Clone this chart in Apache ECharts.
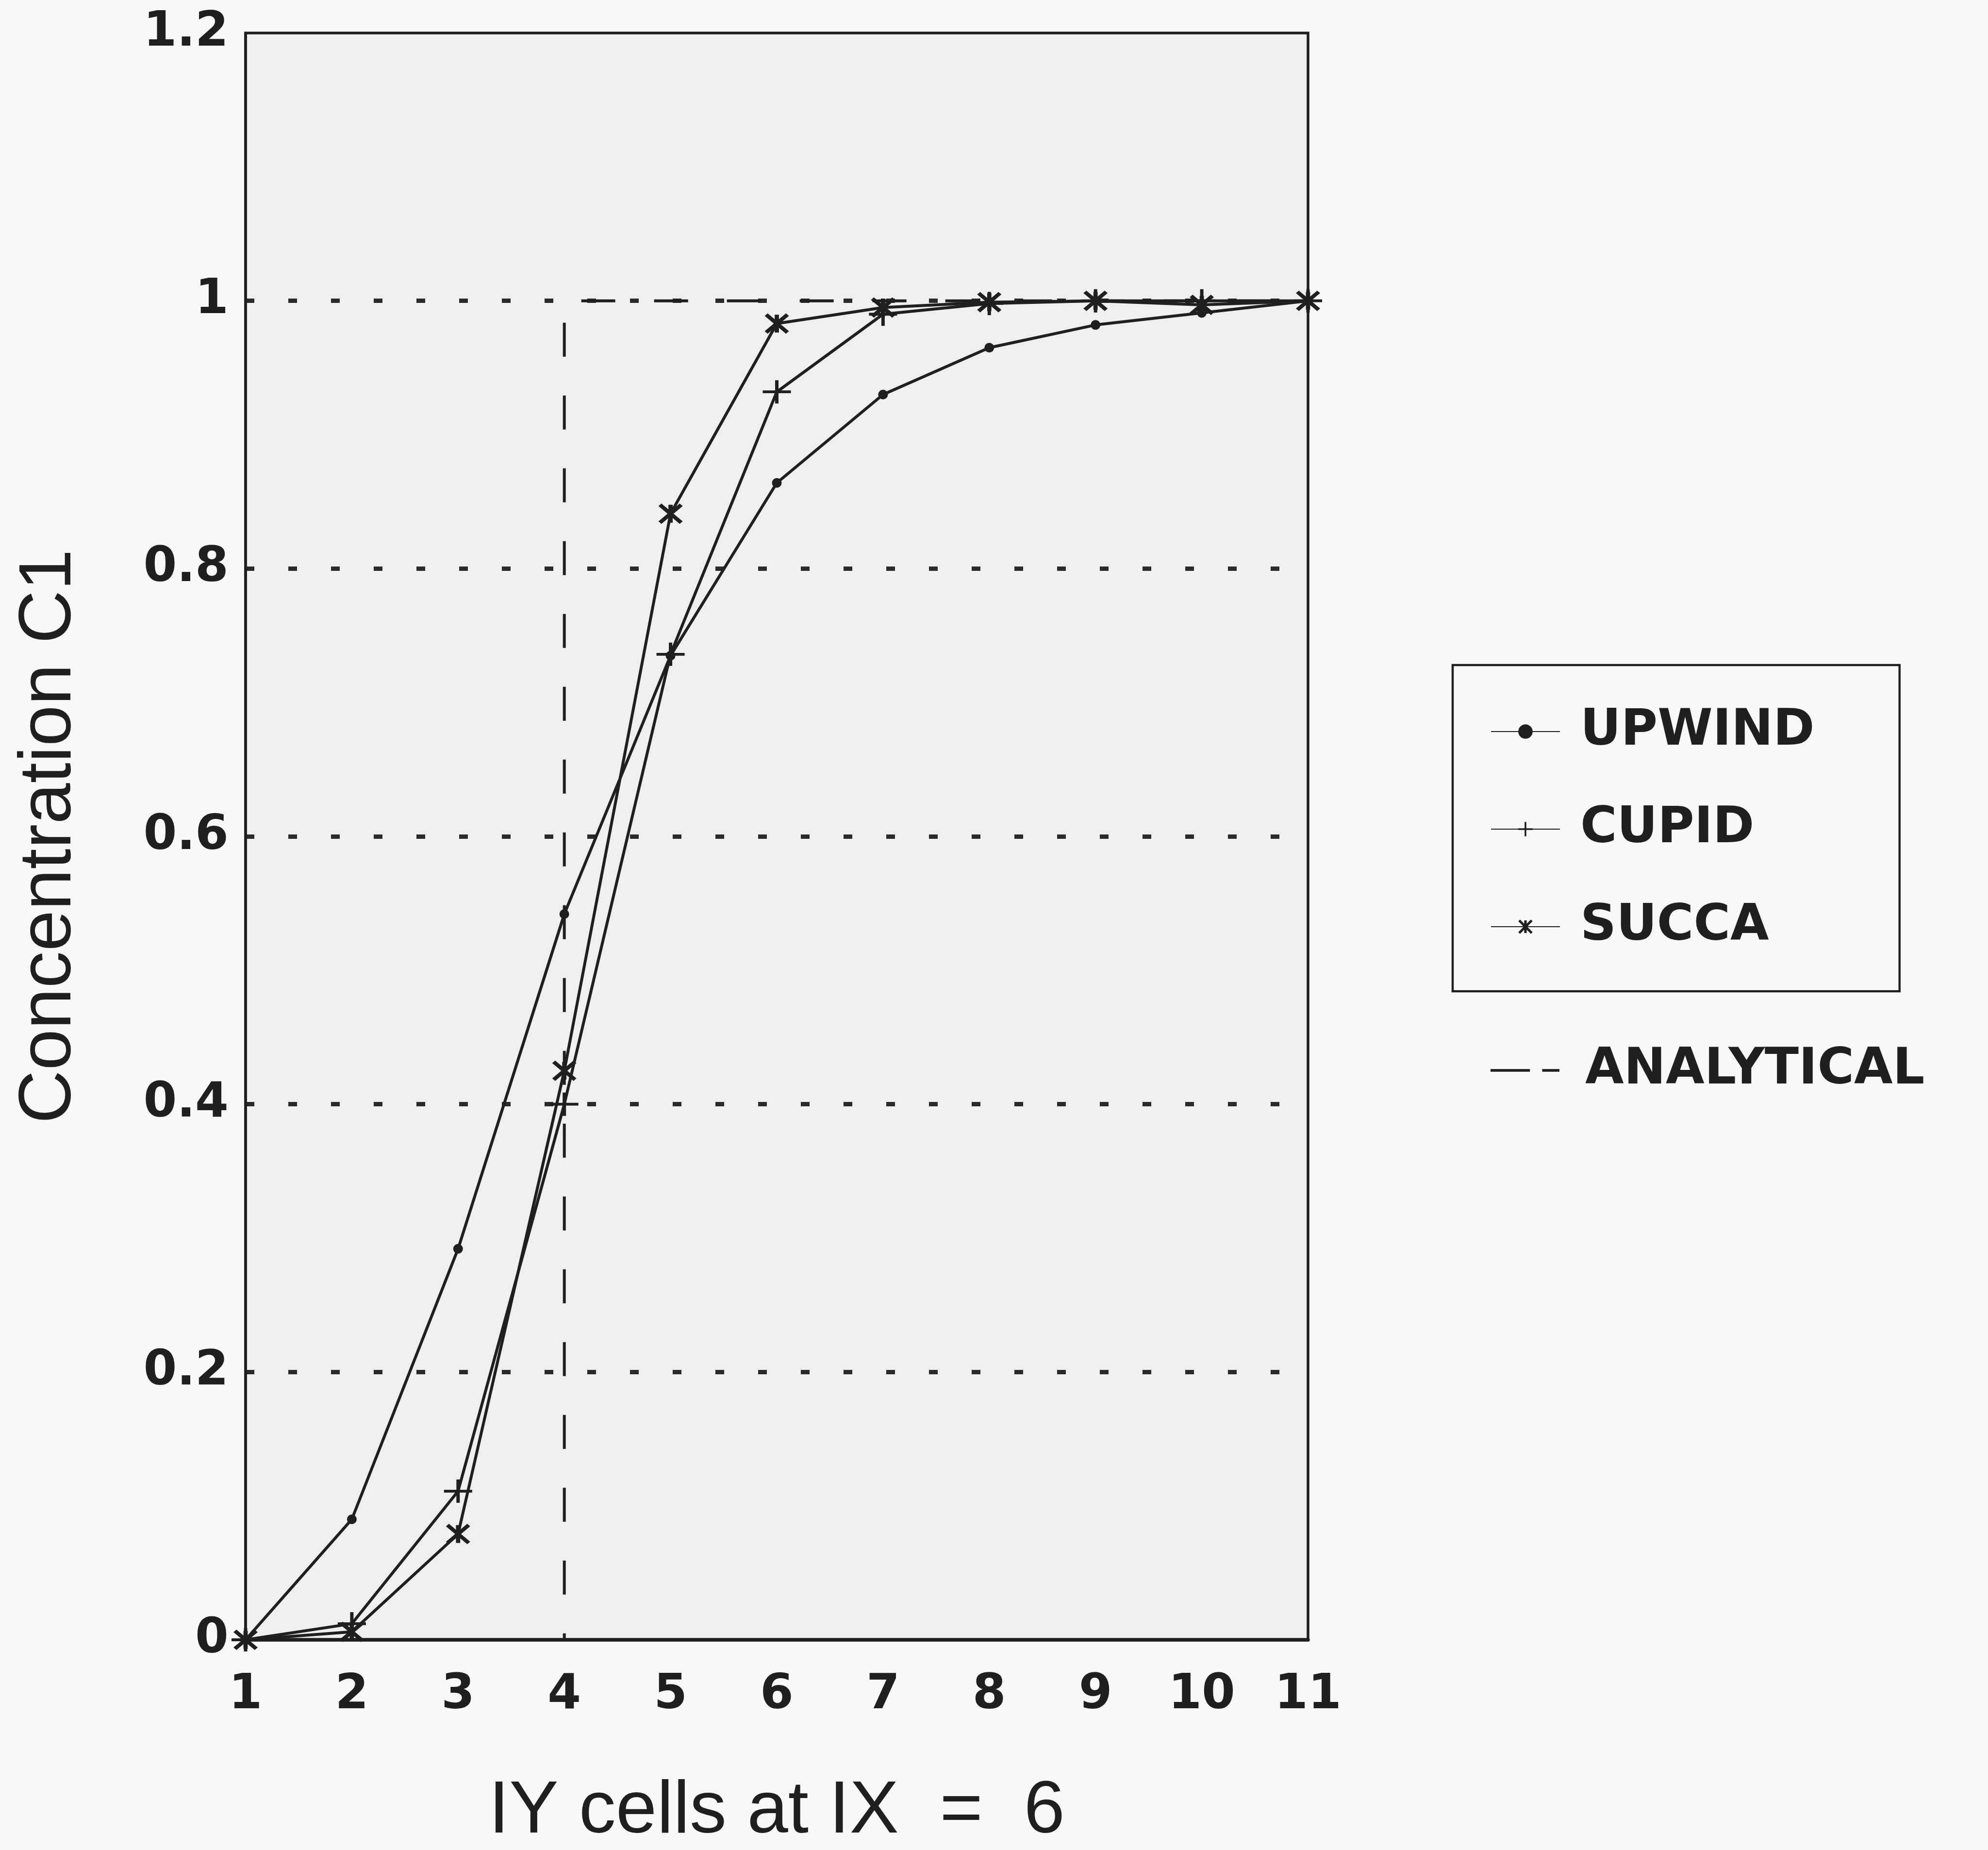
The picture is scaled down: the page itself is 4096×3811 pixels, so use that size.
<!DOCTYPE html>
<html>
<head>
<meta charset="utf-8">
<title>Concentration C1 along IY at IX = 6</title>
<script src="https://cdn.jsdelivr.net/npm/echarts@6/dist/echarts.min.js"></script>
<style>
  html, body { margin: 0; padding: 0; background: #f8f8f8; }
  #main { width: 4096px; height: 3811px; }
</style>
</head>
<body>
<div id="main"></div>
<script>
// cells along the column IX = 6
const iyCells = [1, 2, 3, 4, 5, 6, 7, 8, 9, 10, 11];
// concentration C1
const upwind = [0, 0.09, 0.292, 0.542, 0.735, 0.864, 0.93, 0.965, 0.982, 0.991, 1.0];
const cupid  = [0, 0.012, 0.111, 0.40, 0.736, 0.932, 0.99, 0.998, 1.0, 1.0, 1.0];
const succa  = [0, 0.006, 0.079, 0.425, 0.841, 0.983, 0.995, 0.999, 1.0, 0.997, 1.0];
// analytical step profile, corner points
const analyticalX = [1, 4, 4, 11];
const analyticalY = [0, 0, 1, 1];

const ink = '#1f1f1f';
const dotInk = '#2a2a2a';
const boldFont = 'DejaVu Sans';
const titleFont = 'Liberation Sans';

// a thick bar from (x1,y1) to (x2,y2) as a closed polygon, used for the marker paths
function bar(x1, y1, x2, y2, t) {
  const len = Math.hypot(x2 - x1, y2 - y1);
  const nx = -(y2 - y1) / len * t, ny = (x2 - x1) / len * t;
  const f = v => v.toFixed(3);
  return 'M' + f(x1 + nx) + ',' + f(y1 + ny) +
         'L' + f(x2 + nx) + ',' + f(y2 + ny) +
         'L' + f(x2 - nx) + ',' + f(y2 - ny) +
         'L' + f(x1 - nx) + ',' + f(y1 - ny) + 'Z';
}
const plusPath = 'path://' + bar(-1, 0, 1, 0, 0.12) + bar(0, -1, 0, 1, 0.12);
const starPath = 'path://' + bar(0, -1, 0, 1, 0.2) + bar(-1, -1, 1, 1, 0.2) + bar(-1, 1, 1, -1, 0.2);
const dashIcon = 'path://M0,0H87V6H0Z M114,0H152V6H114Z';

const pairs = ys => iyCells.map((x, i) => [x, ys[i]]);

const chart = echarts.init(document.getElementById('main'));

const lineCommon = {
  type: 'line',
  silent: true,
  animation: false,
  emphasis: { disabled: true },
  lineStyle: { color: ink, width: 6 },
  itemStyle: { color: ink }
};

chart.setOption({
  backgroundColor: '#f8f8f8',
  animation: false,
  grid: {
    left: 506, right: 1401, top: 68, bottom: 433,
    show: true,
    backgroundColor: '#efefef',
    borderColor: ink,
    borderWidth: 5.5,
    outerBoundsMode: 'none'
  },
  xAxis: {
    type: 'value',
    min: 1, max: 11, interval: 1,
    name: 'IY cells at IX  =  6',
    nameLocation: 'middle',
    nameGap: 279,
    nameTextStyle: { fontFamily: titleFont, fontSize: 152, color: ink },
    axisLine: { show: true, lineStyle: { color: ink, width: 7.5 } },
    axisTick: { show: false },
    splitLine: { show: false },
    axisLabel: { fontFamily: boldFont, fontWeight: 'bold', fontSize: 99, color: ink, margin: 66 }
  },
  yAxis: {
    type: 'value',
    min: 0, max: 1.2, interval: 0.2,
    name: 'Concentration C1',
    nameLocation: 'middle',
    nameGap: 327,
    nameTextStyle: { fontFamily: titleFont, fontSize: 152, color: ink },
    axisLine: { show: true, lineStyle: { color: ink, width: 5.5 } },
    axisTick: { show: false },
    axisLabel: { fontFamily: boldFont, fontWeight: 'bold', fontSize: 99, color: ink, margin: 35 },
    // no dotted line over the axis at 0 or over the frame at 1.2
    splitLine: {
      show: true,
      lineStyle: {
        color: ['rgba(0,0,0,0)', dotInk, dotInk, dotInk, dotInk, dotInk, 'rgba(0,0,0,0)'],
        width: 9, type: [18, 70], cap: 'butt'
      }
    }
  },
  legend: [
    {
      data: ['UPWIND', 'CUPID', 'SUCCA'],
      orient: 'vertical',
      left: 2993, top: 1370,
      padding: [85, 175, 81, 78],
      borderColor: ink,
      borderWidth: 4.5,
      itemWidth: 142,
      itemHeight: 37,
      itemGap: 97,
      selectedMode: false,
      textStyle: { fontFamily: boldFont, fontWeight: 'bold', fontSize: 103, lineHeight: 104, color: ink, padding: [0, 0, 0, 37] }
    },
    {
      data: [{ name: 'ANALYTICAL', icon: dashIcon }],
      orient: 'vertical',
      left: 3071, top: 2153,
      padding: 0,
      itemWidth: 142,
      itemHeight: 6,
      selectedMode: false,
      itemStyle: { color: ink },
      textStyle: { fontFamily: boldFont, fontWeight: 'bold', fontSize: 103, lineHeight: 104, color: ink, padding: [0, 0, 0, 48] }
    }
  ],
  series: [
    Object.assign({}, lineCommon, {
      name: 'ANALYTICAL',
      data: analyticalX.map((x, i) => [x, analyticalY[i]]),
      showSymbol: false,
      symbol: 'none',
      lineStyle: { color: ink, width: 6, type: [70, 80], cap: 'butt' },
      z: 2
    }),
    Object.assign({}, lineCommon, {
      name: 'UPWIND',
      data: pairs(upwind),
      symbol: 'circle',
      symbolSize: 20,
      z: 3
    }),
    Object.assign({}, lineCommon, {
      name: 'CUPID',
      data: pairs(cupid),
      symbol: plusPath,
      symbolSize: [58, 48],
      z: 4
    }),
    Object.assign({}, lineCommon, {
      name: 'SUCCA',
      data: pairs(succa),
      symbol: starPath,
      symbolSize: [50, 42],
      z: 5
    })
  ]
});
</script>
</body>
</html>
